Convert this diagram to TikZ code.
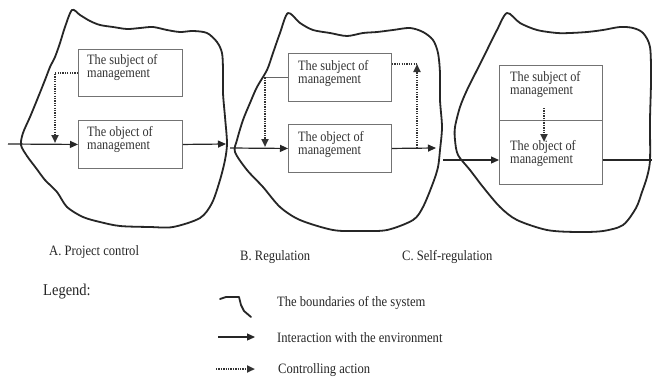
\documentclass[tikz,border=0pt]{standalone}
\usepackage{fontspec}
\setmainfont{Liberation Serif}
\newfontfamily\boxfont[FakeStretch=0.86]{Liberation Serif}
\newfontfamily\lblfont[FakeStretch=0.88]{Liberation Serif}
\usetikzlibrary{arrows.meta,calc}
\begin{document}
\begin{tikzpicture}[x=1pt,y=-1pt,
  blob/.style={line width=1.8pt, draw=black!85, line join=round, line cap=round},
  mbox/.style={draw=black!55, line width=0.9pt, minimum width=103pt, inner sep=0pt, anchor=north west},
  btext/.style={anchor=north west, inner sep=0pt, align=left, font=\boxfont\fontsize{14.3}{13.5}\selectfont, text=black!80},
  lbl/.style={anchor=west, inner sep=0pt, font=\lblfont\fontsize{14.3}{15}\selectfont, text=black!85},
  flow/.style={line width=1.2pt, draw=black!85, -{Triangle[length=8pt,width=7pt]}},
  flowline/.style={line width=1.2pt, draw=black!85},
  ctrl/.style={line width=2pt, draw=black!80, dash pattern=on 1.3pt off 1.1pt, -{Triangle[length=8pt,width=7pt]}},
  ctrlline/.style={line width=2pt, draw=black!80, dash pattern=on 1.3pt off 1.1pt},
  thinlink/.style={line width=0.8pt, draw=black!60}
]
\useasboundingbox (0,0) rectangle (652,378);
\fill[white] (0,0) rectangle (652,378);

% ---------- boundaries ----------
\draw[blob] plot[smooth cycle, tension=0.5] coordinates {
 (72,10) (80,15) (90,21) (100,25) (113,27) (127,29) (140,28) (153,27) (167,30) (180,32) (193,31) (207,33)
 (217,42) (222,53) (223,70) (223,93) (225,117) (227,143) (225,160) (220,180) (212,203) (200,218)
 (173,227) (150,227) (120,226) (100,222) (83,217) (67,207) (57,192) (45,180) (36,168) (27,156)
 (21,145) (23,133) (30,117) (37,100) (45,80) (50,67) (55,57) (60,43) (65,27)};
\draw[blob] plot[smooth cycle, tension=0.5] coordinates {
 (288,13) (300,23) (313,30) (330,33) (347,36) (363,33) (377,32) (393,30) (410,28) (423,32) (433,40)
 (438,53) (440,73) (440,100) (442,127) (440,150) (438,167) (433,183) (423,207) (413,220) (387,230)
 (360,231) (333,230) (300,220) (280,207) (263,187) (247,170) (235,152) (237,140) (243,120) (250,103)
 (257,87) (267,70) (273,53) (280,33)};
\draw[blob] plot[smooth cycle, tension=0.5] coordinates {
 (507,13) (520,23) (537,30) (557,33) (570,33) (587,32) (603,30) (620,27) (633,28) (643,33) (650,47)
 (651,80) (650,120) (650,160) (647,177) (642,192) (636,208) (623,225) (603,231) (577,232) (547,230)
 (517,220) (500,207) (483,187) (470,170) (458,155) (455,140) (455,127) (460,107) (467,90) (477,70)
 (487,50) (497,30)};

% ---------- boxes ----------
\node[mbox, minimum width=104pt, minimum height=47pt] (sa) at (78,49) {};
\node[mbox, minimum width=104pt, minimum height=48pt] (oa) at (78,120) {};
\node[mbox, minimum height=48pt] (sb) at (288,53) {};
\node[mbox, minimum height=48pt] (ob) at (288,124) {};
\node[mbox, minimum height=55pt] (sc) at (499,65) {};
\node[mbox, minimum height=64pt] (oc) at (499,120) {};

\node[btext] (tsa) at ($(sa.north west)+(9,5)$) {The subject of\\management};
\node[btext] (toa) at ($(oa.north west)+(9,6)$) {The object of\\management};
\node[btext] (tsb) at ($(sb.north west)+(10,7)$) {The subject of\\management};
\node[btext] (tob) at ($(ob.north west)+(10,7)$) {The object of\\management};
\node[btext] (tsc) at ($(sc.north west)+(11,6)$) {The subject of\\management};
\node[btext] (toc) at ($(oc.north west)+(11,20)$) {The object of\\management};

% ---------- A ----------
\coordinate (ainl) at (8,144);
\coordinate (aout) at (226,144);
\coordinate (actl) at (55,143);
\draw[flow] (ainl) -- (oa.west);
\draw[flow] (oa.east) -- (aout);
\draw[ctrl] (sa.west) -| (actl);

% ---------- B ----------
\coordinate (binl) at (230,148);
\coordinate (bout) at (436,148);
\coordinate (bctl) at (265,147);
\coordinate (bfb) at (417,148);
\coordinate (bfbtop) at (417,64);
\draw[flow] (binl) -- (ob.west);
\draw[flow] (ob.east) -- (bout);
\draw[thinlink] (sb.west) -- (sb.west -| bctl);
\draw[ctrl] (sb.west -| bctl) -- (bctl);
\draw[ctrl] (bfb) -- (bfbtop);
\draw[ctrlline] (sb.east |- bfbtop) -- (bfbtop);

% ---------- C ----------
\coordinate (cinl) at (443,160);
\coordinate (cout) at (652,160);
\coordinate (cc1) at (544,108);
\coordinate (cc2) at (544,142);
\draw[flow] (cinl) -- (cinl -| oc.west);
\draw[flowline] (cout -| oc.east) -- (cout);
\draw[ctrl] (cc1) -- (cc2);

% ---------- labels ----------
\node[lbl] (la) at (49,252) {A. Project control};
\node[lbl] (lb) at (240,257) {B. Regulation};
\node[lbl] (lc) at (402,257) {C. Self-regulation};
\node[lbl, font=\lblfont\fontsize{16.5}{17}\selectfont] (lg) at (43,292) {Legend:};

% ---------- legend ----------
\coordinate (lb1) at (220,299);
\coordinate (lb2) at (251,317);
\draw[blob] (lb1) -- (226,297) -- (239,297) -- (241,305) -- (244,311) -- (lb2);
\node[lbl] (l1) at (277,303) {The boundaries of the system};
\coordinate (lf1) at (218,337);
\coordinate (lf2) at (255,337);
\draw[flow] (lf1) -- (lf2);
\node[lbl] (l2) at (277,338) {Interaction with the environment};
\coordinate (lc1) at (216,369);
\coordinate (lc2) at (255,369);
\draw[ctrl] (lc1) -- (lc2);
\node[lbl] (l3) at (278,370) {Controlling action};
\end{tikzpicture}
\end{document}
